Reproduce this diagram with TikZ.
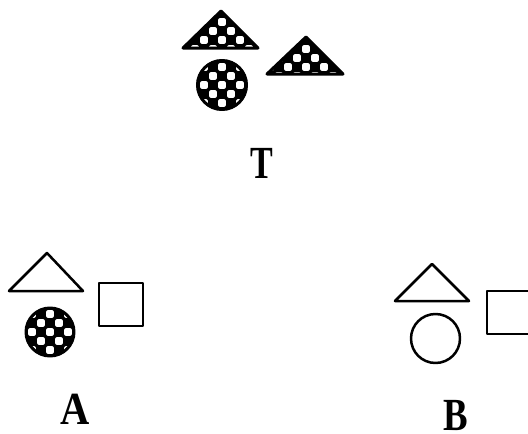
\documentclass[tikz,border=0pt]{standalone}
\usepackage{graphicx}
\usepackage{fontspec}
\setmainfont{Liberation Serif}
\tikzset{
  outl/.style={draw=black, line width=2.5pt, line join=round, fill=none},
  solidb/.style={draw=black, line width=3pt, line join=round},
  lbl/.style={inner sep=0pt, font=\fontsize{46}{46}\selectfont\bfseries},
  spot/.style={fill=white, rounded corners=2pt}
}
\newcommand\mychecks[2]{%
  \foreach \i in {-5,...,5}{%
    \foreach \j in {-5,...,5}{%
      \pgfmathtruncatemacro\kk{mod(\i+\j+20,2)}%
      \ifnum\kk=0
        \fill[spot] ({#1+9*\i-3.9},{#2+9*\j-3.9}) rectangle ++(7.8,7.8);
      \fi
    }%
  }%
}
\begin{document}
\begin{tikzpicture}[x=1pt,y=-1pt]
\useasboundingbox (0,0) rectangle (528,434);
\clip (0,0) rectangle (528,434);
% ---- T group ----
\begin{scope}
  \fill[black] (221,11) -- (183,48) -- (258,48) -- cycle;
  \clip (221,11) -- (183,48) -- (258,48) -- cycle;
  \mychecks{222}{22}
\end{scope}
\draw[solidb] (221,11) -- (183,48) -- (258,48) -- cycle;
\begin{scope}
  \fill[black] (306,37) -- (267,74) -- (343,74) -- cycle;
  \clip (306,37) -- (267,74) -- (343,74) -- cycle;
  \mychecks{306}{49}
\end{scope}
\draw[solidb] (306,37) -- (267,74) -- (343,74) -- cycle;
\begin{scope}
  \fill[black] (222,85) circle (25.5);
  \clip (222,85) circle (25.5);
  \mychecks{222}{85}
\end{scope}
\draw[solidb] (222,85) circle (24.5);
\node[lbl] (T) at (262,163) {\scalebox{0.74}[1]{T}};
% ---- A group ----
\draw[outl] (47,253) -- (9,291) -- (83,291) -- cycle;
\draw[outl] (99,283) rectangle (143,326);
\begin{scope}
  \fill[black] (50,332) circle (25);
  \clip (50,332) circle (25);
  \mychecks{50}{332}
\end{scope}
\draw[solidb] (50,332) circle (24);
\node[lbl] (A) at (75,409) {\scalebox{0.88}[1]{A}};
% ---- B group ----
\draw[outl] (432,264) -- (395,301) -- (469,301) -- cycle;
\draw[outl] (487,291) rectangle (540,334);
\draw[outl] (435.5,338.5) circle (24.5);
\node[lbl] (B) at (456,416) {\scalebox{0.8}[1]{B}};
\end{tikzpicture}
\end{document}
